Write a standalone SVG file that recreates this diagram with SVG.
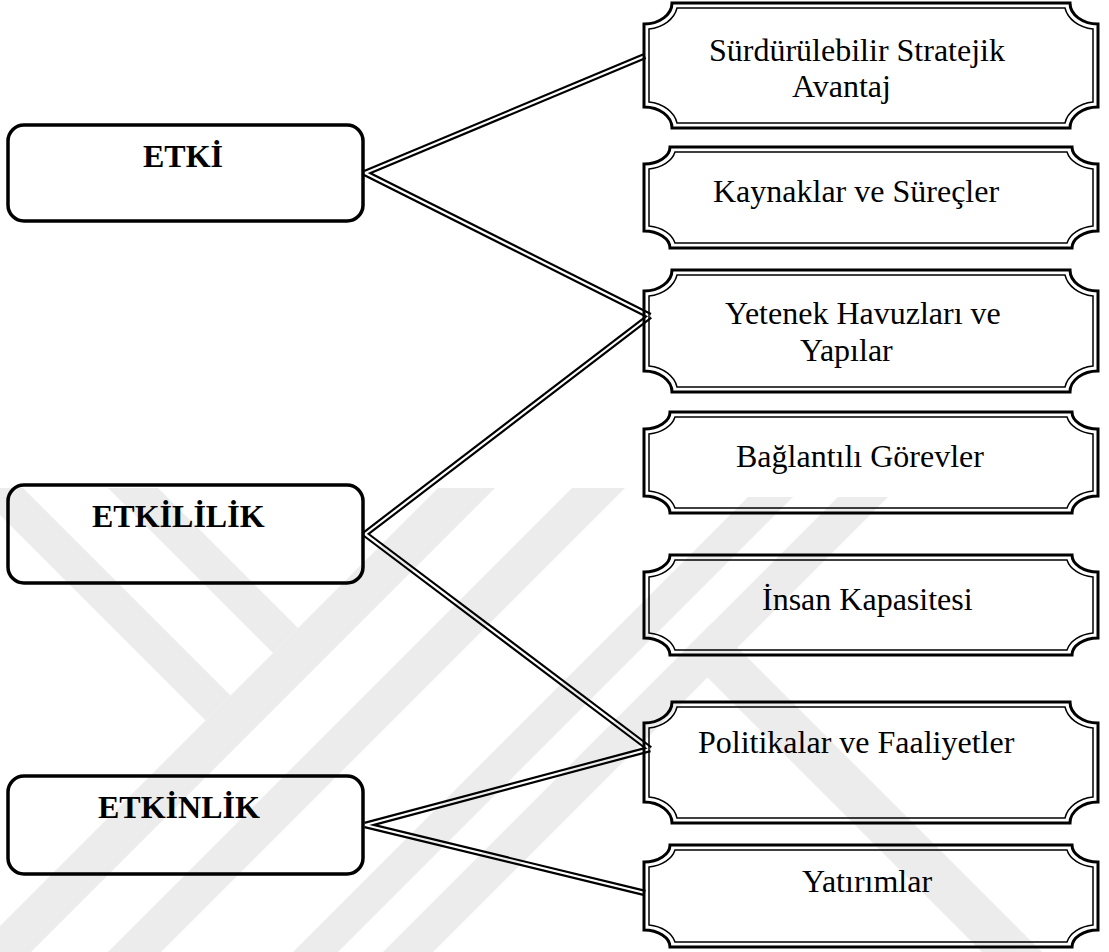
<svg xmlns="http://www.w3.org/2000/svg" width="1109" height="952" viewBox="0 0 1109 952">
<style>
.lbox{fill:none;stroke:#000;stroke-width:3.5}
.po{fill:none;stroke:#000;stroke-width:3}
.pi{fill:none;stroke:#000;stroke-width:1.5}
.t{font-family:"Liberation Serif","Times New Roman",serif;font-size:32px;fill:#000}
.tb{font-family:"Liberation Serif","Times New Roman",serif;font-size:32px;font-weight:bold;fill:#000}
.wk{fill:none;stroke:#000;stroke-width:6.5}
.ww{fill:none;stroke:#fff;stroke-width:2.2}
</style>
<rect width="1109" height="952" fill="#fff"/>
<g id="connectors">
<g class="wk">
<line x1="365" y1="173" x2="645" y2="56"/>
<line x1="365" y1="173" x2="650" y2="316"/>
<line x1="365" y1="534" x2="650" y2="316"/>
<line x1="365" y1="534" x2="650" y2="749"/>
<line x1="365" y1="825" x2="650" y2="749"/>
<line x1="365" y1="825" x2="645" y2="893"/>
</g>
<g class="ww">
<line x1="365" y1="173" x2="645" y2="56"/>
<line x1="365" y1="173" x2="650" y2="316"/>
<line x1="365" y1="534" x2="650" y2="316"/>
<line x1="365" y1="534" x2="650" y2="749"/>
<line x1="365" y1="825" x2="650" y2="749"/>
<line x1="365" y1="825" x2="645" y2="893"/>
</g>
</g>
<g id="etki">
<rect class="lbox" x="8" y="125" width="355" height="96" rx="16"/>
<text class="tb" x="143" y="167">ETKİ</text>
</g>
<g id="etkililik">
<rect class="lbox" x="8" y="485" width="355" height="98" rx="16"/>
<text class="tb" x="92" y="527">ETKİLİLİK</text>
</g>
<g id="etkinlik">
<rect class="lbox" x="8" y="776" width="355" height="98" rx="16"/>
<text class="tb" x="98" y="818">ETKİNLİK</text>
</g>
<g id="surdurulebilir">
<path class="po" d="M672,3 H1070 A28,21 0 0 0 1098,24 V107 A28,21 0 0 0 1070,128 H672 A28,21 0 0 0 644,107 V24 A28,21 0 0 0 672,3 Z"/>
<path class="pi" d="M677,8 H1065 A33,26 0 0 0 1093,29 V102 A33,26 0 0 0 1065,123 H677 A33,26 0 0 0 649,102 V29 A33,26 0 0 0 677,8 Z"/>
<text class="t" x="709" y="61">Sürdürülebilir Stratejik</text>
<text class="t" x="792" y="97">Avantaj</text>
</g>
<g id="kaynaklar">
<path class="po" d="M670,147 H1072 A26,17 0 0 0 1098,164 V231 A26,17 0 0 0 1072,248 H670 A26,17 0 0 0 644,231 V164 A26,17 0 0 0 670,147 Z"/>
<path class="pi" d="M675,152 H1067 A31,22 0 0 0 1093,169 V226 A31,22 0 0 0 1067,243 H675 A31,22 0 0 0 649,226 V169 A31,22 0 0 0 675,152 Z"/>
<text class="t" x="713" y="202">Kaynaklar ve Süreçler</text>
</g>
<g id="yetenek">
<path class="po" d="M672,270 H1070 A28,21 0 0 0 1098,291 V371 A28,21 0 0 0 1070,392 H672 A28,21 0 0 0 644,371 V291 A28,21 0 0 0 672,270 Z"/>
<path class="pi" d="M677,275 H1065 A33,26 0 0 0 1093,296 V366 A33,26 0 0 0 1065,387 H677 A33,26 0 0 0 649,366 V296 A33,26 0 0 0 677,275 Z"/>
<text class="t" x="725" y="324">Yetenek Havuzları ve</text>
<text class="t" x="800" y="361">Yapılar</text>
</g>
<g id="baglantili">
<path class="po" d="M670,412 H1072 A26,17 0 0 0 1098,429 V496 A26,17 0 0 0 1072,513 H670 A26,17 0 0 0 644,496 V429 A26,17 0 0 0 670,412 Z"/>
<path class="pi" d="M675,417 H1067 A31,22 0 0 0 1093,434 V491 A31,22 0 0 0 1067,508 H675 A31,22 0 0 0 649,491 V434 A31,22 0 0 0 675,417 Z"/>
<text class="t" x="736" y="467">Bağlantılı Görevler</text>
</g>
<g id="insan">
<path class="po" d="M670,555 H1072 A26,17 0 0 0 1098,572 V638 A26,17 0 0 0 1072,655 H670 A26,17 0 0 0 644,638 V572 A26,17 0 0 0 670,555 Z"/>
<path class="pi" d="M675,560 H1067 A31,22 0 0 0 1093,577 V633 A31,22 0 0 0 1067,650 H675 A31,22 0 0 0 649,633 V577 A31,22 0 0 0 675,560 Z"/>
<text class="t" x="762" y="610">İnsan Kapasitesi</text>
</g>
<g id="politikalar">
<path class="po" d="M672,702 H1070 A28,21 0 0 0 1098,723 V802 A28,21 0 0 0 1070,823 H672 A28,21 0 0 0 644,802 V723 A28,21 0 0 0 672,702 Z"/>
<path class="pi" d="M677,707 H1065 A33,26 0 0 0 1093,728 V797 A33,26 0 0 0 1065,818 H677 A33,26 0 0 0 649,797 V728 A33,26 0 0 0 677,707 Z"/>
<text class="t" x="698" y="753">Politikalar ve Faaliyetler</text>
</g>
<g id="yatirimlar">
<path class="po" d="M670,845 H1072 A26,17 0 0 0 1098,862 V930 A26,17 0 0 0 1072,947 H670 A26,17 0 0 0 644,930 V862 A26,17 0 0 0 670,845 Z"/>
<path class="pi" d="M675,850 H1067 A31,22 0 0 0 1093,867 V925 A31,22 0 0 0 1067,942 H675 A31,22 0 0 0 649,925 V867 A31,22 0 0 0 675,850 Z"/>
<text class="t" x="802" y="892">Yatırımlar</text>
</g>
<g id="watermark" opacity="0.07" fill="#000">
<polygon points="-27,488 23,488 230.5,695.5 205.5,720.5"/>
<polygon points="108,488 158,488 298,628 273,653"/>
<polygon points="438,488 495,488 31,952 -26,952"/>
<polygon points="572,488 625,488 161,952 108,952"/>
<polygon points="748,497 793,497 338,952 293,952"/>
<polygon points="838,497 888,497 433,952 383,952"/>
<polygon points="682.5,652.5 712.5,622.5 1042,952 982,952"/>
</g>
</svg>
